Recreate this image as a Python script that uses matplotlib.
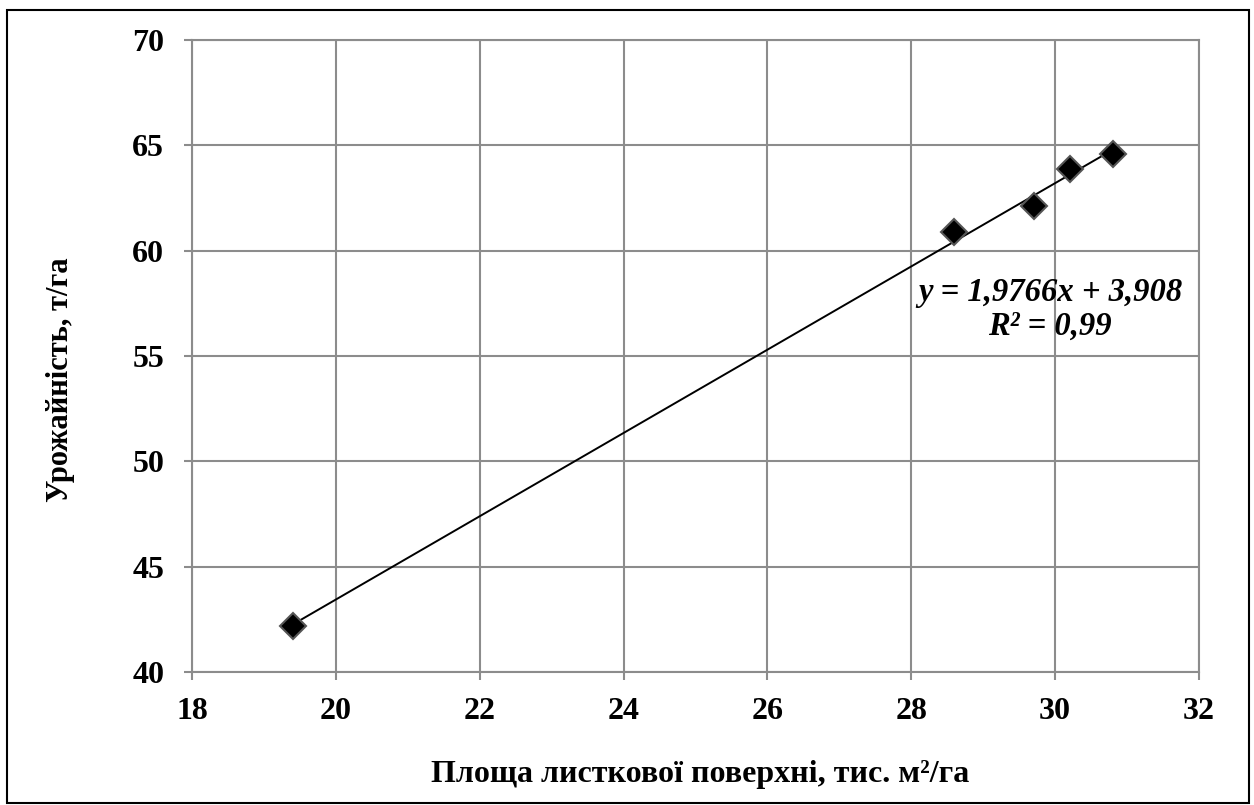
import matplotlib.pyplot as plt
from matplotlib.patches import Rectangle

plt.rcParams['font.family'] = ['Liberation Serif', 'DejaVu Serif']

# leaf area, thousand m2/ha  vs  yield, t/ha
leaf_area = [19.4, 28.6, 29.7, 30.2, 30.8]
yield_t = [42.2, 60.9, 62.1, 63.9, 64.6]

# trendline as printed on the chart
slope = 1.9766
intercept = 3.908
r2 = 0.99

fig = plt.figure(figsize=(12.54, 8.05), dpi=100)
ax = fig.add_axes([192 / 1254, 1 - 672 / 805, 1007 / 1254, 632 / 805])

grid_col = '#8c8c8c'

x_line = [min(leaf_area), max(leaf_area)]
y_line = [slope * v + intercept for v in x_line]
ax.plot(x_line, y_line, color='black', lw=1.4, zorder=3)
ax.plot(leaf_area, yield_t, linestyle='none', marker='D', markersize=13,
        markerfacecolor='black', markeredgecolor='#555555', markeredgewidth=1.5,
        zorder=4)

ax.set_xlim(18, 32)
ax.set_ylim(40, 70)
ax.set_xticks(range(18, 33, 2))
ax.set_yticks(range(40, 71, 5))
ax.grid(True, color=grid_col, lw=1.5)
ax.set_axisbelow(True)
for s in ax.spines.values():
    s.set_color(grid_col)
    s.set_linewidth(1.5)
ax.tick_params(length=6, width=1.5, color=grid_col, labelsize=23)
ax.tick_params(axis='y', pad=14)
ax.tick_params(axis='x', pad=12)
for lab in ax.get_xticklabels() + ax.get_yticklabels():
    lab.set_fontweight('bold')

ax.set_xlabel('Площа листкової поверхні, тис. м²/га', fontsize=23, fontweight='bold')
ax.set_ylabel('Урожайність, т/га', fontsize=22, fontweight='bold')
ax.xaxis.set_label_coords(0.505, -0.139)
ax.yaxis.set_label_coords(-0.116, 0.462)

eq = 'y = {}x + {}\nR² = {}'.format(str(slope).replace('.', ','),
                                    str(intercept).replace('.', ','),
                                    str(r2).replace('.', ','))
ax.text(0.852, 0.574, eq, transform=ax.transAxes, ha='center', va='center',
        fontsize=23.5, fontweight='bold', fontstyle='italic', linespacing=1.1,
        zorder=5)

fig.patches.append(Rectangle((7 / 1254, 1 - 803 / 805), 1242 / 1254, 793 / 805,
                             transform=fig.transFigure, fill=False,
                             edgecolor='black', lw=1.5))

fig.savefig('out.png', dpi=100)
